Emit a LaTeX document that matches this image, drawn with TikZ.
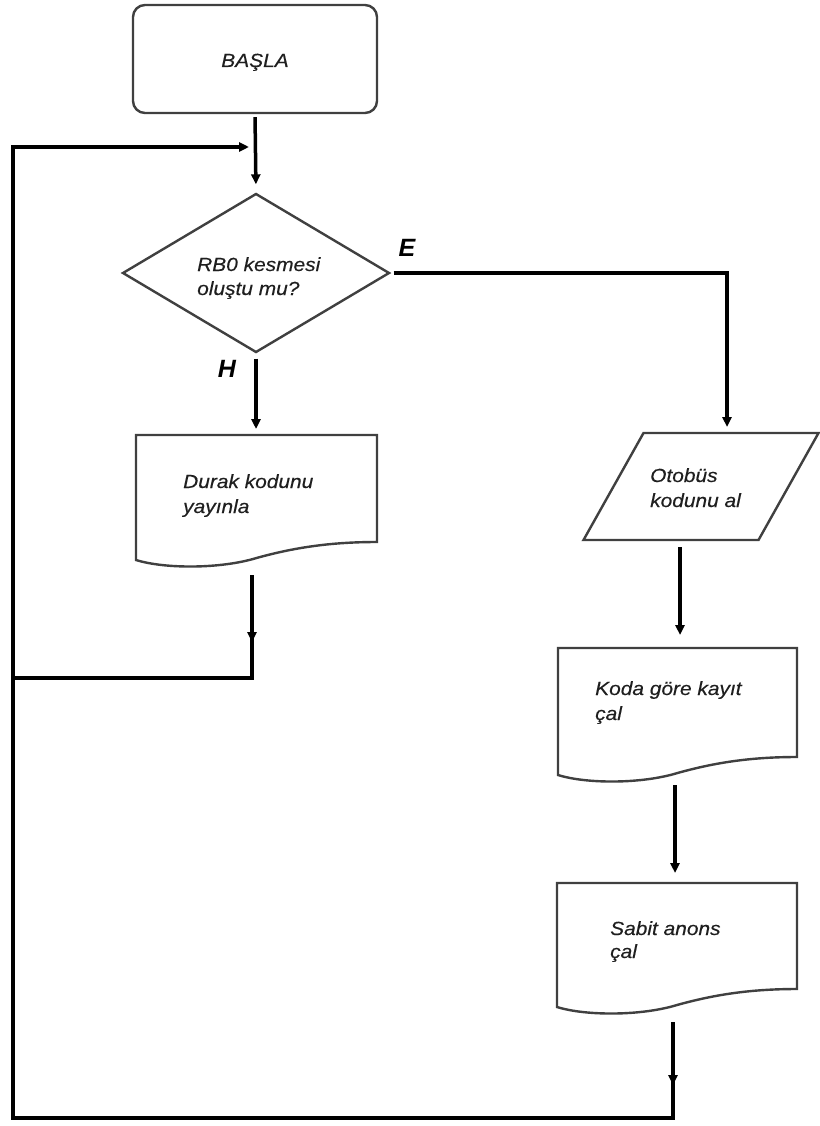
\documentclass[tikz,border=0pt]{standalone}
\usepackage{fontspec}
\setmainfont{Liberation Sans}
\newfontfamily\lblfont{Liberation Sans}[FakeStretch=1.1, FakeBold=0.3]
\usetikzlibrary{shapes.geometric,arrows.meta,calc,decorations.markings}
\tikzset{
  shapeline/.style={draw=black!75, line width=2.4pt},
  frame/.style={inner sep=0pt, outer sep=0pt},
  conn/.style={draw=black, line width=3.5pt},
  tip/.style={-{Triangle[length=10pt,width=9pt]}},
  lbl/.style={font=\lblfont\fontsize{19}{24}\selectfont\itshape, inner sep=0pt, anchor=base west, text=black!88},
  yn/.style={font=\fontsize{25}{30}\selectfont\bfseries\itshape, inner sep=0pt},
  midtip/.style={postaction={decorate}, decoration={markings, mark=at position #1 with {\arrow{Triangle[length=10pt,width=9pt]}}}},
}
\newcommand\docoutline[2]{%
  \draw[shapeline] (#1.south west) -- (#1.north west) -- (#1.north east) -- ($(#1.south east)+(0,-18)$)
    .. controls ($(#1.south east)+(-0.2*#2,-18)$) and ($(#1.south east)+(-0.35*#2,-12)$) .. ($(#1.south west)+(0.5*#2,-2)$)
    .. controls ($(#1.south west)+(0.35*#2,9)$) and ($(#1.south west)+(0.12*#2,9)$) .. (#1.south west) -- cycle;}
\begin{document}
\begin{tikzpicture}[x=1pt,y=-1pt]
\useasboundingbox[fill=white] (0,0) rectangle (819,1126);

% shapes
\node[shapeline, rectangle, rounded corners=12pt, minimum width=244pt, minimum height=108pt] (start) at (255,59) {};
\node[shapeline, diamond, minimum width=267pt, minimum height=159pt, inner sep=0pt] (dia) at (256,273) {};
\node[frame, minimum width=241pt, minimum height=125pt] (d1) at (256.5,497.5) {};
\docoutline{d1}{241}
\node[frame, minimum width=175pt, minimum height=107pt] (p) at (701,486.5) {};
\draw[shapeline] ($(p.north west)+(30,0)$) -- ($(p.north east)+(30,0)$) -- ($(p.south east)+(-30,0)$) -- ($(p.south west)+(-30,0)$) -- cycle;
\node[frame, minimum width=239pt, minimum height=127pt] (d2) at (677.5,711.5) {};
\docoutline{d2}{239}
\node[frame, minimum width=240pt, minimum height=124pt] (d3) at (677,945) {};
\docoutline{d3}{240}

% texts
\node[lbl, anchor=base] (tstart) at (255,67) {BAŞLA};
\node[lbl] (tdia1) at (197,271) {RB0 kesmesi};
\node[lbl] (tdia2) at (197,295) {oluştu mu?};
\node[lbl] (td1a) at (183,488) {Durak kodunu};
\node[lbl] (td1b) at (183,513) {yayınla};
\node[lbl] (tpa) at (650,482) {Otobüs};
\node[lbl] (tpb) at (650,507) {kodunu al};
\node[lbl] (td2a) at (595,695) {Koda göre kayıt};
\node[lbl] (td2b) at (595,720) {çal};
\node[lbl] (td3a) at (610,935) {Sabit anons};
\node[lbl] (td3b) at (610,958) {çal};
\node[yn] (lE) at (407,248) {E};
\node[yn] (lH) at (227,369) {H};

% coordinates for the loop
\coordinate (jn) at (255,147);
\coordinate (lt) at (13,147);
\coordinate (lm) at (13,678);
\coordinate (lb) at (13,1118);
\coordinate (c1) at (252,678);
\coordinate (c3) at (673,1118);

% connectors
\draw[conn, tip, shorten <=3pt, shorten >=8pt] (start.south) -- (dia.north);
\draw[conn, tip, shorten >=6pt, line join=miter] (lm) -- (lt) -- (jn);
\draw[conn, tip, shorten <=3pt, shorten >=6pt, line join=miter] (dia.east) -| ([xshift=26pt]p.north);
\draw[conn, tip, shorten <=5pt, shorten >=6pt] (dia.south) -- (dia.south |- d1.north);
\draw[conn, midtip=67pt, line join=miter] ([xshift=-4.5pt, yshift=-15pt]d1.south) -- (c1) -- (lm);
\draw[conn, tip, shorten <=7pt, shorten >=13pt] ([xshift=-21pt]p.south) -- ([xshift=-21pt]p.south |- d2.north);
\draw[conn, tip, shorten <=10pt, shorten >=10pt] ([xshift=-2.5pt]d2.south) -- ([xshift=-2.5pt]d2.south |- d3.north);
\draw[conn, midtip=63pt, line join=miter] ([xshift=-4pt, yshift=-15pt]d3.south) -- (c3) -- (lb) -- (lm);
\end{tikzpicture}
\end{document}
